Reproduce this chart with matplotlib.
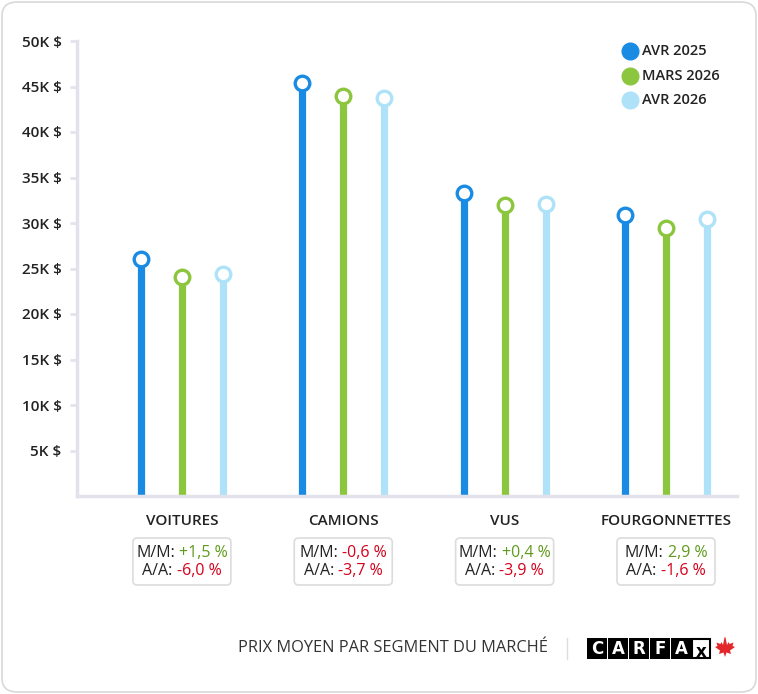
import matplotlib
matplotlib.use("Agg")
import matplotlib.pyplot as plt
from matplotlib.patches import FancyBboxPatch, Rectangle, Polygon
from matplotlib.offsetbox import TextArea, HPacker, VPacker, AnnotationBbox

plt.rcParams['font.family'] = ['Open Sans', 'DejaVu Sans']

# Données
segments = ["VOITURES", "CAMIONS", "VUS", "FOURGONNETTES"]
series = ["AVR 2025", "MARS 2026", "AVR 2026"]
avr_2025 = [26000, 45400, 33300, 30900]
mars_2026 = [24100, 44000, 32000, 29500]
avr_2026 = [24400, 43700, 32100, 30400]
mm_values = ["+1,5 %", "-0,6 %", "+0,4 %", "2,9 %"]
aa_values = ["-6,0 %", "-3,7 %", "-3,9 %", "-1,6 %"]
y_ticks = [5000, 10000, 15000, 20000, 25000, 30000, 35000, 40000, 45000, 50000]
y_tick_labels = ["5K $", "10K $", "15K $", "20K $", "25K $", "30K $", "35K $", "40K $", "45K $", "50K $"]

colors = ["#1a8be3", "#8cc63e", "#aee2f8"]
green_txt = "#5f9a1c"
red_txt = "#d6001c"
dark = "#222222"

W, H = 758, 694
fig = plt.figure(figsize=(W / 100, H / 100), dpi=100, facecolor="white")

# cadre arrondi
fig.patches.append(FancyBboxPatch((2 / W, 2 / H), (W - 4) / W, (H - 4) / H,
                                  boxstyle="round,pad=0,rounding_size=0.02",
                                  transform=fig.transFigure, fc="none",
                                  ec="#d9d9d9", lw=1.2, zorder=-1))

ax = fig.add_axes([77 / W, 1 - 496 / H, 660 / W, 455 / H])
ax.set_facecolor("none")

offset = 41 / 161.5
for i, vals in enumerate([avr_2025, mars_2026, avr_2026]):
    xs = [g + (i - 1) * offset for g in range(len(segments))]
    ax.vlines(xs, 0, vals, colors=colors[i], lw=5.2, zorder=2)
    ax.plot(xs, vals, "o", ms=10.5, mfc="white", mec=colors[i], mew=2.4,
            zorder=3, label=series[i], clip_on=False)

ax.set_xlim(-0.65, 3.44)
ax.set_ylim(0, 50000)
ax.set_yticks(y_ticks)
ax.set_yticklabels(y_tick_labels, fontsize=11, fontweight=600, color=dark)
ax.tick_params(axis="y", length=5, width=2, color="#e4e4ec", pad=6)
ax.set_xticks([])
for s in ["top", "right"]:
    ax.spines[s].set_visible(False)
for s in ["left", "bottom"]:
    ax.spines[s].set_color("#e2e2ea")
    ax.spines[s].set_linewidth(2.5)

# légende
for i, name in enumerate(series):
    y = 1 - (51 + i * 24.5) / H
    fig.add_artist(plt.Line2D([630 / W], [y], marker="o", ms=12, mfc=colors[i],
                              mec=colors[i], transform=fig.transFigure))
    fig.text(642 / W, y, name, fontsize=10.5, fontweight=600, color=dark,
             va="center", ha="left")

# libellés des segments et boîtes de variation
for g, seg in enumerate(segments):
    xc = ax.transData.transform((g, 0))[0] / W
    fig.text(xc, 1 - 521 / H, seg, ha="center", va="center", fontsize=11,
             fontweight=600, color=dark)
    fig.patches.append(FancyBboxPatch((xc - 49 / W, 1 - 585 / H), 98 / W, 47 / H,
                                      boxstyle="round,pad=0,rounding_size=0.006",
                                      transform=fig.transFigure, fc="white",
                                      ec="#dcdcdc", lw=1.2))
    lines = []
    for lab, val in [("M/M:", mm_values[g]), ("A/A:", aa_values[g])]:
        col = red_txt if val.startswith("-") else green_txt
        lines.append(HPacker(children=[
            TextArea(lab, textprops=dict(fontsize=11.5, color=dark)),
            TextArea(val, textprops=dict(fontsize=11.5, color=col))],
            align="baseline", pad=0, sep=3))
    box = VPacker(children=lines, align="center", pad=0, sep=2)
    ab = AnnotationBbox(box, (xc, 1 - 562 / H), xycoords="figure fraction",
                        frameon=False, box_alignment=(0.5, 0.5), pad=0)
    fig.add_artist(ab)

# pied de page
fig.text(393 / W, 1 - 648 / H, "PRIX MOYEN PAR SEGMENT DU MARCHÉ", ha="center",
         va="center", fontsize=11.8, color="#333333")
fig.add_artist(plt.Line2D([567 / W, 567 / W], [1 - 638 / H, 1 - 659 / H],
                          color="#dddddd", lw=1, transform=fig.transFigure))

# logo CARFAX
x0, ytop, bw, bh = 587, 638, 20, 21
for k, letter in enumerate("CARFA"):
    bx = x0 + k * (bw + 1)
    fig.patches.append(Rectangle((bx / W, 1 - (ytop + bh) / H), bw / W, bh / H,
                                 transform=fig.transFigure, fc="black", ec="none"))
    fig.text((bx + bw / 2) / W, 1 - (ytop + bh / 2) / H, letter, ha="center",
             va="center", fontsize=12, fontweight="bold", color="white",
             family="DejaVu Sans")
bx = x0 + 5 * (bw + 1)
fig.patches.append(Rectangle((bx / W, 1 - (ytop + bh - 1) / H), (bw - 2) / W, (bh - 2) / H,
                             transform=fig.transFigure, fc="white", ec="black", lw=1.5))
fig.text((bx + bw / 2 - 1) / W, 1 - (ytop + 14) / H, "x", ha="center", va="center",
         fontsize=12, fontweight="bold", color="black", family="DejaVu Sans")
# feuille d'érable
cx, cy, s = 725, 647, 10
leaf = [(0, -1), (0.15, -0.55), (0.6, -0.7), (0.5, -0.35), (1, 0), (0.75, 0.1),
        (0.85, 0.45), (0.45, 0.3), (0.35, 0.5), (0.2, 0.2), (0.05, 0.95),
        (0, 1), (-0.05, 0.95), (-0.2, 0.2), (-0.35, 0.5), (-0.45, 0.3), (-0.85, 0.45),
        (-0.75, 0.1), (-1, 0), (-0.5, -0.35), (-0.6, -0.7), (-0.15, -0.55)]
pts = [((cx + px * s) / W, 1 - (cy - py * s) / H) for px, py in leaf]
fig.patches.append(Polygon(pts, closed=True, transform=fig.transFigure,
                           fc="#e3262a", ec="none"))

fig.savefig("out.png", dpi=100)
